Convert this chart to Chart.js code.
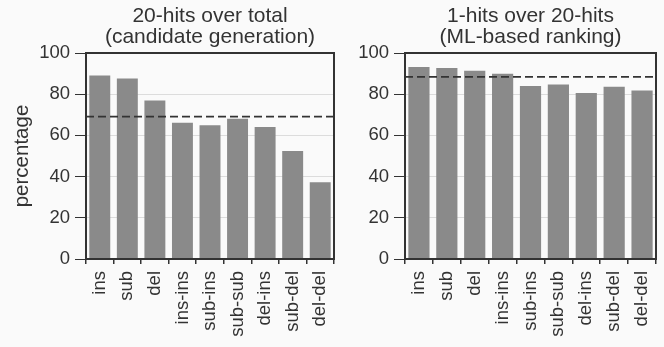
<!DOCTYPE html>
<html>
<head>
<meta charset="utf-8">
<script src="https://cdn.jsdelivr.net/npm/chart.js@4.4.0/dist/chart.umd.min.js"></script>
<style>
  body { margin: 0; background: #fafafa; }
  #wrap { position: relative; width: 664px; height: 347px; }
  canvas { position: absolute; top: 0; }
  #c1 { left: 0; }
  #c2 { left: 340px; }
</style>
</head>
<body>
<div id="wrap">
  <canvas id="c1" width="340" height="347"></canvas>
  <canvas id="c2" width="324" height="347"></canvas>
</div>
<script>
// Edit types on the x axis
const categories = ['ins', 'sub', 'del', 'ins-ins', 'sub-ins', 'sub-sub', 'del-ins', 'sub-del', 'del-del'];

// Left panel: 20-hits over total
const candidateGen = [89.1, 87.6, 76.9, 66.2, 64.9, 68.1, 64.1, 52.4, 37.2];
const candidateMean = 69.1;

// Right panel: 1-hits over 20-hits
const mlRanking = [93.2, 92.7, 91.4, 89.9, 84.0, 84.7, 80.6, 83.6, 81.8];
const rankingMean = 88.4;

const yTicks = [0, 20, 40, 60, 80, 100];

const FONT = 'Liberation Sans, Arial, sans-serif';
const INK = '#333333';

// Dashed mean line + closed box around the plot area
const frameAndMean = {
  id: 'frameAndMean',
  afterDatasetsDraw(chart, args, opts) {
    const { ctx, chartArea: a, scales: { y } } = chart;
    const yy = y.getPixelForValue(opts.mean);
    ctx.save();
    ctx.strokeStyle = '#333333';
    ctx.lineWidth = 1.8;
    ctx.setLineDash([8, 4]);
    ctx.beginPath();
    ctx.moveTo(a.left, yy);
    ctx.lineTo(a.right, yy);
    ctx.stroke();
    ctx.setLineDash([]);
    ctx.strokeStyle = INK;
    ctx.lineWidth = 2;
    ctx.strokeRect(a.left, a.top, a.right - a.left, a.bottom - a.top);
    ctx.restore();
  }
};

function makePanel(id, title, values, mean, yWidth, yTitle, padRight) {
  const ctx = document.getElementById(id).getContext('2d');
  return new Chart(ctx, {
    type: 'bar',
    data: {
      labels: categories,
      datasets: [{
        data: values,
        backgroundColor: '#8a8a8a',
        borderWidth: 0,
        barPercentage: 0.76,
        categoryPercentage: 1
      }]
    },
    plugins: [frameAndMean],
    options: {
      responsive: false,
      animation: false,
      layout: { padding: { left: 0, right: padRight, top: 0, bottom: 0 } },
      plugins: {
        legend: { display: false },
        tooltip: { enabled: false },
        title: {
          display: true,
          text: title,
          fullSize: false,
          color: INK,
          font: { family: FONT, size: 21, weight: 'normal', lineHeight: 1.0 },
          padding: { top: 6, bottom: 5 }
        },
        frameAndMean: { mean: mean }
      },
      scales: {
        x: {
          offset: true,
          grid: { display: true, drawOnChartArea: false, tickColor: INK, tickLength: 5, lineWidth: 1.5 },
          border: { color: INK, width: 2 },
          ticks: {
            color: INK, font: { family: FONT, size: 18.5 },
            minRotation: 90, maxRotation: 90, autoSkip: false, padding: 7
          },
          afterFit(scale) {
            scale.height = 88;
            scale.paddingLeft = 0;
            scale.paddingRight = 0;
          }
        },
        y: {
          min: 0, max: 100,
          afterBuildTicks(scale) { scale.ticks = yTicks.map(v => ({ value: v })); },
          grid: { color: '#dcdcdc', lineWidth: 1, tickColor: INK, tickLength: 11 },
          border: { color: INK, width: 2 },
          ticks: { color: INK, font: { family: FONT, size: 18.5 }, padding: 5 },
          title: {
            display: yTitle !== '',
            text: yTitle,
            color: INK,
            font: { family: FONT, size: 20.5 },
            padding: { top: 10, bottom: 0 }
          },
          afterFit(scale) {
            scale.width = yWidth;
            scale.paddingTop = 0;
            scale.paddingBottom = 0;
          }
        }
      }
    }
  });
}

makePanel('c1', ['20-hits over total', '(candidate generation)'], candidateGen, candidateMean, 86, 'percentage', 6);
makePanel('c2', ['1-hits over 20-hits', '(ML-based ranking)'], mlRanking, rankingMean, 65, '', 8);
</script>
</body>
</html>
